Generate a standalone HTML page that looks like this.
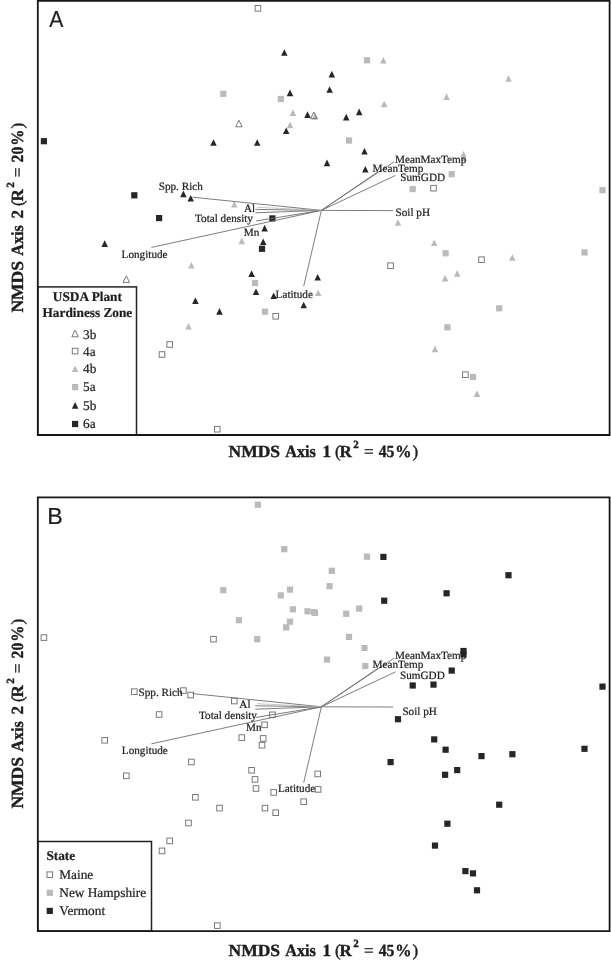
<!DOCTYPE html>
<html><head><meta charset="utf-8"><style>
html,body{margin:0;padding:0;background:#fff;width:611px;height:960px;overflow:hidden;}
svg{display:block;filter:grayscale(1);}
text{text-rendering:geometricPrecision;stroke:#1e1e1e;stroke-width:0.22px;}
text.ax{stroke-width:0.4px;}
</style></head><body>
<svg width="611" height="960" viewBox="0 0 611 960">
<rect width="611" height="960" fill="#fff"/>
<g id="A">
<rect x="255.10" y="5.50" width="5.60" height="5.60" fill="none" stroke="#7a7a7a" stroke-width="1"/>
<rect x="220.20" y="90.70" width="6.20" height="6.20" fill="#bababa"/>
<polygon points="284.30,49.20 287.55,55.80 281.05,55.80" fill="#262626"/>
<rect x="363.90" y="57.20" width="6.20" height="6.20" fill="#bababa"/>
<polygon points="383.40,56.90 386.65,63.50 380.15,63.50" fill="#bababa"/>
<polygon points="331.80,70.80 335.05,77.40 328.55,77.40" fill="#262626"/>
<polygon points="329.60,86.20 332.85,92.80 326.35,92.80" fill="#262626"/>
<polygon points="290.00,89.60 293.25,96.20 286.75,96.20" fill="#262626"/>
<rect x="277.70" y="95.90" width="6.20" height="6.20" fill="#bababa"/>
<polygon points="384.20,100.70 387.45,107.30 380.95,107.30" fill="#bababa"/>
<polygon points="292.90,109.30 296.15,115.90 289.65,115.90" fill="#bababa"/>
<polygon points="307.50,111.30 310.75,117.90 304.25,117.90" fill="#262626"/>
<polygon points="315.00,112.90 318.25,119.50 311.75,119.50" fill="#bababa"/>
<polygon points="313.90,112.10 317.15,118.70 310.65,118.70" fill="none" stroke="#6a6a6a" stroke-width="0.9"/>
<polygon points="346.20,113.80 349.45,120.40 342.95,120.40" fill="#262626"/>
<polygon points="359.20,108.60 362.45,115.20 355.95,115.20" fill="#262626"/>
<polygon points="290.00,121.70 293.25,128.30 286.75,128.30" fill="#bababa"/>
<polygon points="286.20,127.40 289.45,134.00 282.95,134.00" fill="#262626"/>
<polygon points="446.60,93.30 449.85,99.90 443.35,99.90" fill="#bababa"/>
<polygon points="508.50,75.20 511.75,81.80 505.25,81.80" fill="#bababa"/>
<rect x="40.80" y="138.10" width="6.20" height="6.20" fill="#262626"/>
<rect x="131.20" y="192.20" width="6.20" height="6.20" fill="#262626"/>
<polygon points="238.90,120.20 242.15,126.80 235.65,126.80" fill="none" stroke="#6a6a6a" stroke-width="0.9"/>
<polygon points="213.50,139.20 216.75,145.80 210.25,145.80" fill="#262626"/>
<polygon points="257.20,139.20 260.45,145.80 253.95,145.80" fill="#262626"/>
<polygon points="183.40,190.60 186.65,197.20 180.15,197.20" fill="#262626"/>
<polygon points="190.70,195.00 193.95,201.60 187.45,201.60" fill="#262626"/>
<rect x="345.90" y="137.40" width="6.20" height="6.20" fill="#bababa"/>
<polygon points="364.50,148.00 367.75,154.60 361.25,154.60" fill="#262626"/>
<polygon points="327.00,159.60 330.25,166.20 323.75,166.20" fill="#262626"/>
<polygon points="365.30,166.00 368.55,172.60 362.05,172.60" fill="#262626"/>
<polygon points="463.50,154.40 466.75,161.00 460.25,161.00" fill="#bababa"/>
<polygon points="463.50,151.00 466.75,157.60 460.25,157.60" fill="#bababa"/>
<rect x="448.60" y="171.10" width="6.20" height="6.20" fill="#bababa"/>
<rect x="409.60" y="186.00" width="6.20" height="6.20" fill="#bababa"/>
<rect x="430.70" y="185.40" width="5.60" height="5.60" fill="none" stroke="#7a7a7a" stroke-width="1"/>
<polygon points="398.00,219.20 401.25,225.80 394.75,225.80" fill="#bababa"/>
<rect x="599.40" y="187.10" width="6.20" height="6.20" fill="#bababa"/>
<polygon points="104.70,240.30 107.95,246.90 101.45,246.90" fill="#262626"/>
<polygon points="126.30,275.80 129.55,282.40 123.05,282.40" fill="none" stroke="#6a6a6a" stroke-width="0.9"/>
<polygon points="234.30,201.00 237.55,207.60 231.05,207.60" fill="#bababa"/>
<rect x="156.00" y="215.00" width="6.20" height="6.20" fill="#262626"/>
<rect x="269.30" y="215.30" width="6.20" height="6.20" fill="#262626"/>
<polygon points="264.60,224.80 267.85,231.40 261.35,231.40" fill="#262626"/>
<polygon points="241.80,237.60 245.05,244.20 238.55,244.20" fill="#bababa"/>
<polygon points="263.20,238.40 266.45,245.00 259.95,245.00" fill="#262626"/>
<rect x="258.90" y="245.70" width="6.20" height="6.20" fill="#262626"/>
<polygon points="191.40,262.00 194.65,268.60 188.15,268.60" fill="#bababa"/>
<polygon points="251.60,270.30 254.85,276.90 248.35,276.90" fill="#262626"/>
<rect x="251.90" y="279.90" width="6.20" height="6.20" fill="#bababa"/>
<polygon points="256.00,288.50 259.25,295.10 252.75,295.10" fill="#262626"/>
<polygon points="273.70,292.40 276.95,299.00 270.45,299.00" fill="#262626"/>
<polygon points="317.70,273.90 320.95,280.50 314.45,280.50" fill="#262626"/>
<polygon points="318.10,289.40 321.35,296.00 314.85,296.00" fill="#bababa"/>
<polygon points="303.70,301.70 306.95,308.30 300.45,308.30" fill="#262626"/>
<rect x="261.90" y="308.60" width="6.20" height="6.20" fill="#bababa"/>
<rect x="272.90" y="313.50" width="5.60" height="5.60" fill="none" stroke="#7a7a7a" stroke-width="1"/>
<polygon points="195.40,297.30 198.65,303.90 192.15,303.90" fill="#262626"/>
<polygon points="219.50,308.10 222.75,314.70 216.25,314.70" fill="#262626"/>
<polygon points="188.50,323.00 191.75,329.60 185.25,329.60" fill="#bababa"/>
<rect x="166.90" y="341.70" width="5.60" height="5.60" fill="none" stroke="#7a7a7a" stroke-width="1"/>
<rect x="159.20" y="351.70" width="5.60" height="5.60" fill="none" stroke="#7a7a7a" stroke-width="1"/>
<rect x="214.50" y="426.40" width="5.60" height="5.60" fill="none" stroke="#7a7a7a" stroke-width="1"/>
<rect x="387.80" y="262.90" width="5.60" height="5.60" fill="none" stroke="#7a7a7a" stroke-width="1"/>
<polygon points="434.20,239.40 437.45,246.00 430.95,246.00" fill="#bababa"/>
<rect x="442.50" y="250.20" width="6.20" height="6.20" fill="#bababa"/>
<polygon points="445.10,274.80 448.35,281.40 441.85,281.40" fill="#bababa"/>
<polygon points="457.20,270.10 460.45,276.70 453.95,276.70" fill="#bababa"/>
<rect x="478.70" y="256.90" width="5.60" height="5.60" fill="none" stroke="#7a7a7a" stroke-width="1"/>
<polygon points="512.40,254.20 515.65,260.80 509.15,260.80" fill="#bababa"/>
<rect x="496.10" y="305.20" width="6.20" height="6.20" fill="#bababa"/>
<rect x="581.40" y="249.30" width="6.20" height="6.20" fill="#bababa"/>
<rect x="444.30" y="324.20" width="6.20" height="6.20" fill="#bababa"/>
<polygon points="435.00,345.60 438.25,352.20 431.75,352.20" fill="#bababa"/>
<rect x="462.60" y="371.90" width="5.60" height="5.60" fill="none" stroke="#7a7a7a" stroke-width="1"/>
<rect x="469.90" y="373.90" width="6.20" height="6.20" fill="#bababa"/>
<polygon points="477.00,390.30 480.25,396.90 473.75,396.90" fill="#bababa"/>
<line x1="321.4" y1="210.4" x2="192.5" y2="197.2" stroke="#6e6e6e" stroke-width="0.9"/>
<line x1="321.4" y1="210.4" x2="255.3" y2="209.4" stroke="#6e6e6e" stroke-width="0.9"/>
<line x1="321.4" y1="210.4" x2="255.3" y2="212.8" stroke="#6e6e6e" stroke-width="0.9"/>
<line x1="321.4" y1="210.4" x2="256.0" y2="221.0" stroke="#6e6e6e" stroke-width="0.9"/>
<line x1="321.4" y1="210.4" x2="151.4" y2="247.4" stroke="#6e6e6e" stroke-width="0.9"/>
<line x1="321.4" y1="210.4" x2="303.7" y2="286.3" stroke="#6e6e6e" stroke-width="0.9"/>
<line x1="321.4" y1="210.4" x2="394.2" y2="161.7" stroke="#6e6e6e" stroke-width="0.9"/>
<line x1="321.4" y1="210.4" x2="378.0" y2="171.8" stroke="#6e6e6e" stroke-width="0.9"/>
<line x1="321.4" y1="210.4" x2="395.5" y2="175.4" stroke="#6e6e6e" stroke-width="0.9"/>
<line x1="321.4" y1="210.4" x2="393.0" y2="210.6" stroke="#6e6e6e" stroke-width="0.9"/>
<line x1="321.4" y1="210.4" x2="257.0" y2="207.3" stroke="#b8b8b8" stroke-width="0.8"/>
<text x="158.7" y="189.8" font-size="11.2" font-weight="normal" text-anchor="start" font-family="Liberation Serif" fill="#1e1e1e" >Spp. Rich</text>
<text x="243.9" y="211.8" font-size="11.2" font-weight="normal" text-anchor="start" font-family="Liberation Serif" fill="#1e1e1e" >Al</text>
<text x="195.0" y="222.2" font-size="11.2" font-weight="normal" text-anchor="start" font-family="Liberation Serif" fill="#1e1e1e" >Total density</text>
<text x="243.7" y="235.8" font-size="11.2" font-weight="normal" text-anchor="start" font-family="Liberation Serif" fill="#1e1e1e" >Mn</text>
<text x="121.6" y="257.6" font-size="11.2" font-weight="normal" text-anchor="start" font-family="Liberation Serif" fill="#1e1e1e" >Longitude</text>
<text x="275.6" y="297.6" font-size="11.2" font-weight="normal" text-anchor="start" font-family="Liberation Serif" fill="#1e1e1e" >Latitude</text>
<text x="395.0" y="162.8" font-size="11.2" font-weight="normal" text-anchor="start" font-family="Liberation Serif" fill="#1e1e1e" >MeanMaxTemp</text>
<text x="372.6" y="171.6" font-size="11.2" font-weight="normal" text-anchor="start" font-family="Liberation Serif" fill="#1e1e1e" >MeanTemp</text>
<text x="400.3" y="181.4" font-size="11.2" font-weight="normal" text-anchor="start" font-family="Liberation Serif" fill="#1e1e1e" >SumGDD</text>
<text x="395.5" y="215.6" font-size="11.2" font-weight="normal" text-anchor="start" font-family="Liberation Serif" fill="#1e1e1e" >Soil pH</text>
<rect x="37.8" y="286.9" width="98.7" height="148" fill="#fff" stroke="#222" stroke-width="1.5"/>
<text x="87.4" y="300.7" font-size="13.3" font-weight="bold" text-anchor="middle" font-family="Liberation Serif" fill="#1e1e1e" >USDA Plant</text>
<text x="87.4" y="316.7" font-size="13.3" font-weight="bold" text-anchor="middle" font-family="Liberation Serif" fill="#1e1e1e" >Hardiness Zone</text>
<polygon points="75.10,330.20 78.35,336.80 71.85,336.80" fill="none" stroke="#6a6a6a" stroke-width="0.9"/>
<text x="83.0" y="338.7" font-size="13.3" font-weight="normal" text-anchor="start" font-family="Liberation Serif" fill="#1e1e1e" >3b</text>
<rect x="72.30" y="348.30" width="5.60" height="5.60" fill="none" stroke="#7a7a7a" stroke-width="1"/>
<text x="83.0" y="355.6" font-size="13.3" font-weight="normal" text-anchor="start" font-family="Liberation Serif" fill="#1e1e1e" >4a</text>
<polygon points="75.10,365.50 78.35,372.10 71.85,372.10" fill="#bababa"/>
<text x="83.0" y="372.6" font-size="13.3" font-weight="normal" text-anchor="start" font-family="Liberation Serif" fill="#1e1e1e" >4b</text>
<rect x="72.00" y="384.00" width="6.20" height="6.20" fill="#bababa"/>
<text x="83.0" y="391.0" font-size="13.3" font-weight="normal" text-anchor="start" font-family="Liberation Serif" fill="#1e1e1e" >5a</text>
<polygon points="75.10,402.10 78.35,408.70 71.85,408.70" fill="#262626"/>
<text x="83.0" y="410.2" font-size="13.3" font-weight="normal" text-anchor="start" font-family="Liberation Serif" fill="#1e1e1e" >5b</text>
<rect x="72.00" y="420.90" width="6.20" height="6.20" fill="#262626"/>
<text x="83.0" y="428.2" font-size="13.3" font-weight="normal" text-anchor="start" font-family="Liberation Serif" fill="#1e1e1e" >6a</text>
<path d="M37.8,-0.050000000000000044 V435.9 M609.6,-0.050000000000000044 V435.9 M36.9,0.85 H610.5 M36.9,435.0 H610.5" stroke="#161616" stroke-width="1.8" fill="none"/>
<text x="49.2" y="26.9" font-size="23.2" font-weight="normal" text-anchor="start" font-family="Liberation Sans" fill="#1e1e1e" textLength="14.1" lengthAdjust="spacingAndGlyphs">A</text>
</g>
<g id="B">
<rect x="254.80" y="501.60" width="6.20" height="6.20" fill="#bababa"/>
<rect x="220.20" y="587.10" width="6.20" height="6.20" fill="#bababa"/>
<rect x="281.20" y="546.10" width="6.20" height="6.20" fill="#bababa"/>
<rect x="363.90" y="553.60" width="6.20" height="6.20" fill="#bababa"/>
<rect x="380.30" y="553.80" width="6.20" height="6.20" fill="#262626"/>
<rect x="328.70" y="567.70" width="6.20" height="6.20" fill="#bababa"/>
<rect x="326.50" y="583.10" width="6.20" height="6.20" fill="#bababa"/>
<rect x="286.90" y="586.50" width="6.20" height="6.20" fill="#bababa"/>
<rect x="277.70" y="592.30" width="6.20" height="6.20" fill="#bababa"/>
<rect x="381.10" y="597.60" width="6.20" height="6.20" fill="#262626"/>
<rect x="289.80" y="606.20" width="6.20" height="6.20" fill="#bababa"/>
<rect x="304.40" y="608.20" width="6.20" height="6.20" fill="#bababa"/>
<rect x="311.90" y="609.80" width="6.20" height="6.20" fill="#bababa"/>
<rect x="310.80" y="609.00" width="6.20" height="6.20" fill="#bababa"/>
<rect x="343.10" y="610.70" width="6.20" height="6.20" fill="#bababa"/>
<rect x="356.10" y="605.50" width="6.20" height="6.20" fill="#bababa"/>
<rect x="286.90" y="618.60" width="6.20" height="6.20" fill="#bababa"/>
<rect x="283.10" y="624.30" width="6.20" height="6.20" fill="#bababa"/>
<rect x="443.50" y="590.20" width="6.20" height="6.20" fill="#262626"/>
<rect x="505.40" y="572.10" width="6.20" height="6.20" fill="#262626"/>
<rect x="41.10" y="634.80" width="5.60" height="5.60" fill="none" stroke="#7a7a7a" stroke-width="1"/>
<rect x="131.50" y="688.90" width="5.60" height="5.60" fill="none" stroke="#7a7a7a" stroke-width="1"/>
<rect x="235.80" y="617.10" width="6.20" height="6.20" fill="#bababa"/>
<rect x="210.70" y="636.40" width="5.60" height="5.60" fill="none" stroke="#7a7a7a" stroke-width="1"/>
<rect x="254.10" y="636.10" width="6.20" height="6.20" fill="#bababa"/>
<rect x="180.60" y="687.80" width="5.60" height="5.60" fill="none" stroke="#7a7a7a" stroke-width="1"/>
<rect x="187.90" y="692.20" width="5.60" height="5.60" fill="none" stroke="#7a7a7a" stroke-width="1"/>
<rect x="345.90" y="633.80" width="6.20" height="6.20" fill="#bababa"/>
<rect x="361.40" y="644.90" width="6.20" height="6.20" fill="#bababa"/>
<rect x="323.90" y="656.50" width="6.20" height="6.20" fill="#bababa"/>
<rect x="362.20" y="662.90" width="6.20" height="6.20" fill="#bababa"/>
<rect x="460.40" y="651.30" width="6.20" height="6.20" fill="#262626"/>
<rect x="460.40" y="647.90" width="6.20" height="6.20" fill="#262626"/>
<rect x="448.60" y="667.50" width="6.20" height="6.20" fill="#262626"/>
<rect x="409.60" y="682.40" width="6.20" height="6.20" fill="#262626"/>
<rect x="430.40" y="681.50" width="6.20" height="6.20" fill="#262626"/>
<rect x="394.90" y="716.10" width="6.20" height="6.20" fill="#262626"/>
<rect x="599.40" y="683.50" width="6.20" height="6.20" fill="#262626"/>
<rect x="101.90" y="737.50" width="5.60" height="5.60" fill="none" stroke="#7a7a7a" stroke-width="1"/>
<rect x="123.50" y="773.00" width="5.60" height="5.60" fill="none" stroke="#7a7a7a" stroke-width="1"/>
<rect x="231.50" y="698.20" width="5.60" height="5.60" fill="none" stroke="#7a7a7a" stroke-width="1"/>
<rect x="156.30" y="711.70" width="5.60" height="5.60" fill="none" stroke="#7a7a7a" stroke-width="1"/>
<rect x="269.60" y="712.00" width="5.60" height="5.60" fill="none" stroke="#7a7a7a" stroke-width="1"/>
<rect x="261.80" y="722.00" width="5.60" height="5.60" fill="none" stroke="#7a7a7a" stroke-width="1"/>
<rect x="239.00" y="734.80" width="5.60" height="5.60" fill="none" stroke="#7a7a7a" stroke-width="1"/>
<rect x="260.40" y="735.60" width="5.60" height="5.60" fill="none" stroke="#7a7a7a" stroke-width="1"/>
<rect x="259.20" y="742.40" width="5.60" height="5.60" fill="none" stroke="#7a7a7a" stroke-width="1"/>
<rect x="188.60" y="759.20" width="5.60" height="5.60" fill="none" stroke="#7a7a7a" stroke-width="1"/>
<rect x="248.80" y="767.50" width="5.60" height="5.60" fill="none" stroke="#7a7a7a" stroke-width="1"/>
<rect x="252.20" y="776.60" width="5.60" height="5.60" fill="none" stroke="#7a7a7a" stroke-width="1"/>
<rect x="253.20" y="785.70" width="5.60" height="5.60" fill="none" stroke="#7a7a7a" stroke-width="1"/>
<rect x="270.90" y="789.60" width="5.60" height="5.60" fill="none" stroke="#7a7a7a" stroke-width="1"/>
<rect x="314.90" y="771.10" width="5.60" height="5.60" fill="none" stroke="#7a7a7a" stroke-width="1"/>
<rect x="315.30" y="786.60" width="5.60" height="5.60" fill="none" stroke="#7a7a7a" stroke-width="1"/>
<rect x="300.90" y="798.90" width="5.60" height="5.60" fill="none" stroke="#7a7a7a" stroke-width="1"/>
<rect x="262.20" y="805.30" width="5.60" height="5.60" fill="none" stroke="#7a7a7a" stroke-width="1"/>
<rect x="272.90" y="809.90" width="5.60" height="5.60" fill="none" stroke="#7a7a7a" stroke-width="1"/>
<rect x="192.60" y="794.50" width="5.60" height="5.60" fill="none" stroke="#7a7a7a" stroke-width="1"/>
<rect x="216.70" y="805.30" width="5.60" height="5.60" fill="none" stroke="#7a7a7a" stroke-width="1"/>
<rect x="185.70" y="820.20" width="5.60" height="5.60" fill="none" stroke="#7a7a7a" stroke-width="1"/>
<rect x="166.90" y="838.10" width="5.60" height="5.60" fill="none" stroke="#7a7a7a" stroke-width="1"/>
<rect x="159.20" y="848.10" width="5.60" height="5.60" fill="none" stroke="#7a7a7a" stroke-width="1"/>
<rect x="214.50" y="922.80" width="5.60" height="5.60" fill="none" stroke="#7a7a7a" stroke-width="1"/>
<rect x="387.50" y="759.00" width="6.20" height="6.20" fill="#262626"/>
<rect x="431.10" y="736.30" width="6.20" height="6.20" fill="#262626"/>
<rect x="442.50" y="746.60" width="6.20" height="6.20" fill="#262626"/>
<rect x="442.00" y="771.70" width="6.20" height="6.20" fill="#262626"/>
<rect x="454.10" y="767.00" width="6.20" height="6.20" fill="#262626"/>
<rect x="478.40" y="753.00" width="6.20" height="6.20" fill="#262626"/>
<rect x="509.30" y="751.10" width="6.20" height="6.20" fill="#262626"/>
<rect x="496.10" y="801.60" width="6.20" height="6.20" fill="#262626"/>
<rect x="581.40" y="745.70" width="6.20" height="6.20" fill="#262626"/>
<rect x="444.30" y="820.60" width="6.20" height="6.20" fill="#262626"/>
<rect x="431.90" y="842.50" width="6.20" height="6.20" fill="#262626"/>
<rect x="462.30" y="868.00" width="6.20" height="6.20" fill="#262626"/>
<rect x="469.90" y="870.30" width="6.20" height="6.20" fill="#262626"/>
<rect x="473.90" y="887.20" width="6.20" height="6.20" fill="#262626"/>
<line x1="321.4" y1="706.8" x2="192.5" y2="693.5999999999999" stroke="#6e6e6e" stroke-width="0.9"/>
<line x1="321.4" y1="706.8" x2="255.3" y2="705.8" stroke="#6e6e6e" stroke-width="0.9"/>
<line x1="321.4" y1="706.8" x2="255.3" y2="709.2" stroke="#6e6e6e" stroke-width="0.9"/>
<line x1="321.4" y1="706.8" x2="256.0" y2="717.4" stroke="#6e6e6e" stroke-width="0.9"/>
<line x1="321.4" y1="706.8" x2="151.4" y2="743.8" stroke="#6e6e6e" stroke-width="0.9"/>
<line x1="321.4" y1="706.8" x2="303.7" y2="782.7" stroke="#6e6e6e" stroke-width="0.9"/>
<line x1="321.4" y1="706.8" x2="394.2" y2="658.0999999999999" stroke="#6e6e6e" stroke-width="0.9"/>
<line x1="321.4" y1="706.8" x2="378.0" y2="668.2" stroke="#6e6e6e" stroke-width="0.9"/>
<line x1="321.4" y1="706.8" x2="395.5" y2="671.8" stroke="#6e6e6e" stroke-width="0.9"/>
<line x1="321.4" y1="706.8" x2="393.0" y2="707.0" stroke="#6e6e6e" stroke-width="0.9"/>
<line x1="321.4" y1="706.8" x2="257.0" y2="703.7" stroke="#b8b8b8" stroke-width="0.8"/>
<text x="138.5" y="695.5999999999999" font-size="11.2" font-weight="normal" text-anchor="start" font-family="Liberation Serif" fill="#1e1e1e" >Spp. Rich</text>
<text x="239.3" y="707.5" font-size="11.2" font-weight="normal" text-anchor="start" font-family="Liberation Serif" fill="#1e1e1e" >Al</text>
<text x="199.0" y="719.0" font-size="11.2" font-weight="normal" text-anchor="start" font-family="Liberation Serif" fill="#1e1e1e" >Total density</text>
<text x="246.0" y="730.9" font-size="11.2" font-weight="normal" text-anchor="start" font-family="Liberation Serif" fill="#1e1e1e" >Mn</text>
<text x="121.8" y="754.2" font-size="11.2" font-weight="normal" text-anchor="start" font-family="Liberation Serif" fill="#1e1e1e" >Longitude</text>
<text x="278.0" y="792.3" font-size="11.2" font-weight="normal" text-anchor="start" font-family="Liberation Serif" fill="#1e1e1e" >Latitude</text>
<text x="395.0" y="659.2" font-size="11.2" font-weight="normal" text-anchor="start" font-family="Liberation Serif" fill="#1e1e1e" >MeanMaxTemp</text>
<text x="372.6" y="668.3" font-size="11.2" font-weight="normal" text-anchor="start" font-family="Liberation Serif" fill="#1e1e1e" >MeanTemp</text>
<text x="400.0" y="679.0" font-size="11.2" font-weight="normal" text-anchor="start" font-family="Liberation Serif" fill="#1e1e1e" >SumGDD</text>
<text x="402.4" y="714.5999999999999" font-size="11.2" font-weight="normal" text-anchor="start" font-family="Liberation Serif" fill="#1e1e1e" >Soil pH</text>
<rect x="37.8" y="841.5" width="113.7" height="89.6" fill="#fff" stroke="#222" stroke-width="1.5"/>
<text x="46.4" y="860.2" font-size="13.3" font-weight="bold" text-anchor="start" font-family="Liberation Serif" fill="#1e1e1e" >State</text>
<rect x="47.00" y="871.90" width="5.60" height="5.60" fill="none" stroke="#7a7a7a" stroke-width="1"/>
<text x="59.3" y="879.4" font-size="13.3" font-weight="normal" text-anchor="start" font-family="Liberation Serif" fill="#1e1e1e" >Maine</text>
<rect x="46.70" y="889.70" width="6.20" height="6.20" fill="#bababa"/>
<text x="59.3" y="897.0" font-size="13.3" font-weight="normal" text-anchor="start" font-family="Liberation Serif" fill="#1e1e1e" >New Hampshire</text>
<rect x="46.70" y="907.80" width="6.20" height="6.20" fill="#262626"/>
<text x="59.3" y="915.1" font-size="13.3" font-weight="normal" text-anchor="start" font-family="Liberation Serif" fill="#1e1e1e" >Vermont</text>
<path d="M37.8,496.45000000000005 V932.0 M609.6,496.45000000000005 V932.0 M36.9,497.35 H610.5 M36.9,931.1 H610.5" stroke="#161616" stroke-width="1.8" fill="none"/>
<text x="47.3" y="523.9" font-size="23.2" font-weight="normal" text-anchor="start" font-family="Liberation Sans" fill="#1e1e1e" >B</text>
</g>
<text x="228.50" y="456.80" font-size="17" font-weight="bold" font-family="Liberation Serif" fill="#1e1e1e" class="ax" textLength="51.5" lengthAdjust="spacingAndGlyphs">NMDS</text>
<text x="285.30" y="456.80" font-size="17" font-weight="bold" font-family="Liberation Serif" fill="#1e1e1e" class="ax" textLength="30.6" lengthAdjust="spacingAndGlyphs">Axis</text>
<text x="322.60" y="456.80" font-size="17" font-weight="bold" font-family="Liberation Serif" fill="#1e1e1e" class="ax" >1</text>
<text x="335.00" y="456.80" font-size="17" font-weight="normal" font-family="Liberation Serif" fill="#1e1e1e" class="ax" >(</text>
<text x="339.50" y="456.80" font-size="17" font-weight="bold" font-family="Liberation Serif" fill="#1e1e1e" class="ax" >R</text>
<text x="353.30" y="447.50" font-size="11" font-weight="bold" font-family="Liberation Serif" fill="#1e1e1e" class="ax" >2</text>
<text x="363.90" y="456.80" font-size="17" font-weight="normal" font-family="Liberation Serif" fill="#1e1e1e" class="ax" >=</text>
<text x="378.70" y="456.80" font-size="17" font-weight="bold" font-family="Liberation Serif" fill="#1e1e1e" class="ax" textLength="15.6" lengthAdjust="spacingAndGlyphs">45</text>
<text x="395.30" y="456.80" font-size="17" font-weight="bold" font-family="Liberation Serif" fill="#1e1e1e" class="ax" textLength="16.2" lengthAdjust="spacingAndGlyphs">%</text>
<text x="412.50" y="456.80" font-size="17" font-weight="normal" font-family="Liberation Serif" fill="#1e1e1e" class="ax" >)</text>
<text x="228.50" y="955.80" font-size="17" font-weight="bold" font-family="Liberation Serif" fill="#1e1e1e" class="ax" textLength="51.5" lengthAdjust="spacingAndGlyphs">NMDS</text>
<text x="285.30" y="955.80" font-size="17" font-weight="bold" font-family="Liberation Serif" fill="#1e1e1e" class="ax" textLength="30.6" lengthAdjust="spacingAndGlyphs">Axis</text>
<text x="322.60" y="955.80" font-size="17" font-weight="bold" font-family="Liberation Serif" fill="#1e1e1e" class="ax" >1</text>
<text x="335.00" y="955.80" font-size="17" font-weight="normal" font-family="Liberation Serif" fill="#1e1e1e" class="ax" >(</text>
<text x="339.50" y="955.80" font-size="17" font-weight="bold" font-family="Liberation Serif" fill="#1e1e1e" class="ax" >R</text>
<text x="353.30" y="946.50" font-size="11" font-weight="bold" font-family="Liberation Serif" fill="#1e1e1e" class="ax" >2</text>
<text x="363.90" y="955.80" font-size="17" font-weight="normal" font-family="Liberation Serif" fill="#1e1e1e" class="ax" >=</text>
<text x="378.70" y="955.80" font-size="17" font-weight="bold" font-family="Liberation Serif" fill="#1e1e1e" class="ax" textLength="15.6" lengthAdjust="spacingAndGlyphs">45</text>
<text x="395.30" y="955.80" font-size="17" font-weight="bold" font-family="Liberation Serif" fill="#1e1e1e" class="ax" textLength="16.2" lengthAdjust="spacingAndGlyphs">%</text>
<text x="412.50" y="955.80" font-size="17" font-weight="normal" font-family="Liberation Serif" fill="#1e1e1e" class="ax" >)</text>
<g transform="translate(23.2,311.6) rotate(-90)">
<text x="-1.00" y="0.00" font-size="17" font-weight="bold" font-family="Liberation Serif" fill="#1e1e1e" class="ax" textLength="51.5" lengthAdjust="spacingAndGlyphs">NMDS</text>
<text x="55.80" y="0.00" font-size="17" font-weight="bold" font-family="Liberation Serif" fill="#1e1e1e" class="ax" textLength="30.6" lengthAdjust="spacingAndGlyphs">Axis</text>
<text x="93.10" y="0.00" font-size="17" font-weight="bold" font-family="Liberation Serif" fill="#1e1e1e" class="ax" >2</text>
<text x="105.50" y="0.00" font-size="17" font-weight="normal" font-family="Liberation Serif" fill="#1e1e1e" class="ax" >(</text>
<text x="110.00" y="0.00" font-size="17" font-weight="bold" font-family="Liberation Serif" fill="#1e1e1e" class="ax" >R</text>
<text x="123.80" y="-9.30" font-size="11" font-weight="bold" font-family="Liberation Serif" fill="#1e1e1e" class="ax" >2</text>
<text x="134.40" y="0.00" font-size="17" font-weight="normal" font-family="Liberation Serif" fill="#1e1e1e" class="ax" >=</text>
<text x="149.20" y="0.00" font-size="17" font-weight="bold" font-family="Liberation Serif" fill="#1e1e1e" class="ax" textLength="15.6" lengthAdjust="spacingAndGlyphs">20</text>
<text x="165.80" y="0.00" font-size="17" font-weight="bold" font-family="Liberation Serif" fill="#1e1e1e" class="ax" textLength="16.2" lengthAdjust="spacingAndGlyphs">%</text>
<text x="183.00" y="0.00" font-size="17" font-weight="normal" font-family="Liberation Serif" fill="#1e1e1e" class="ax" >)</text>
</g>
<g transform="translate(23.2,807.6) rotate(-90)">
<text x="-1.00" y="0.00" font-size="17" font-weight="bold" font-family="Liberation Serif" fill="#1e1e1e" class="ax" textLength="51.5" lengthAdjust="spacingAndGlyphs">NMDS</text>
<text x="55.80" y="0.00" font-size="17" font-weight="bold" font-family="Liberation Serif" fill="#1e1e1e" class="ax" textLength="30.6" lengthAdjust="spacingAndGlyphs">Axis</text>
<text x="93.10" y="0.00" font-size="17" font-weight="bold" font-family="Liberation Serif" fill="#1e1e1e" class="ax" >2</text>
<text x="105.50" y="0.00" font-size="17" font-weight="normal" font-family="Liberation Serif" fill="#1e1e1e" class="ax" >(</text>
<text x="110.00" y="0.00" font-size="17" font-weight="bold" font-family="Liberation Serif" fill="#1e1e1e" class="ax" >R</text>
<text x="123.80" y="-9.30" font-size="11" font-weight="bold" font-family="Liberation Serif" fill="#1e1e1e" class="ax" >2</text>
<text x="134.40" y="0.00" font-size="17" font-weight="normal" font-family="Liberation Serif" fill="#1e1e1e" class="ax" >=</text>
<text x="149.20" y="0.00" font-size="17" font-weight="bold" font-family="Liberation Serif" fill="#1e1e1e" class="ax" textLength="15.6" lengthAdjust="spacingAndGlyphs">20</text>
<text x="165.80" y="0.00" font-size="17" font-weight="bold" font-family="Liberation Serif" fill="#1e1e1e" class="ax" textLength="16.2" lengthAdjust="spacingAndGlyphs">%</text>
<text x="183.00" y="0.00" font-size="17" font-weight="normal" font-family="Liberation Serif" fill="#1e1e1e" class="ax" >)</text>
</g>
</svg>
</body></html>
